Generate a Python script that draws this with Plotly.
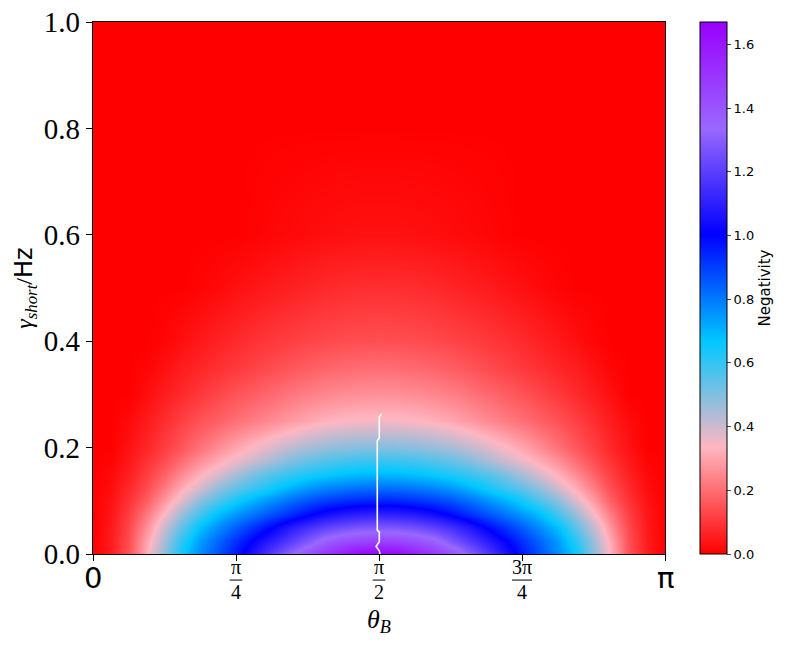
## Negativity map over theta_B and gamma_short
import numpy as np
import plotly.graph_objects as go

## Data
# theta from 0 to pi/2 in units of pi (the map is mirror-symmetric about pi/2)
theta_half = [0, 0.03125, 0.0625, 0.09375, 0.125, 0.15625, 0.1875, 0.21875, 0.25,
              0.28125, 0.3125, 0.34375, 0.375, 0.40625, 0.4375, 0.46875, 0.5]
gamma = [0, 0.025, 0.05, 0.075, 0.1, 0.125, 0.15, 0.175, 0.2, 0.25, 0.3, 0.35, 0.4, 0.5, 0.6, 0.8, 1.0]

# negativity on theta_half, one row per gamma value
neg_g000 = [0, 0.054, 0.15, 0.321, 0.485, 0.653, 0.77, 0.866, 0.963, 1.074, 1.196, 1.317, 1.42, 1.50, 1.58, 1.65, 1.67]
neg_g025 = [0, 0.05, 0.143, 0.304, 0.459, 0.614, 0.742, 0.833, 0.924, 1.015, 1.10, 1.19, 1.28, 1.37, 1.42, 1.45, 1.46]
neg_g050 = [0, 0.046, 0.129, 0.265, 0.409, 0.543, 0.677, 0.765, 0.843, 0.921, 0.998, 1.08, 1.15, 1.205, 1.245, 1.27, 1.276]
neg_g075 = [0, 0.039, 0.114, 0.222, 0.344, 0.465, 0.576, 0.682, 0.749, 0.808, 0.867, 0.926, 0.985, 1.04, 1.075, 1.097, 1.104]
neg_g100 = [0, 0.032, 0.093, 0.173, 0.283, 0.382, 0.488, 0.568, 0.646, 0.715, 0.77, 0.825, 0.87, 0.905, 0.93, 0.945, 0.95]
neg_g125 = [0, 0.024, 0.074, 0.139, 0.226, 0.315, 0.389, 0.474, 0.539, 0.594, 0.65, 0.705, 0.75, 0.78, 0.80, 0.815, 0.819]
neg_g150 = [0, 0.016, 0.057, 0.114, 0.179, 0.253, 0.322, 0.381, 0.444, 0.507, 0.555, 0.595, 0.628, 0.655, 0.675, 0.688, 0.692]
neg_g175 = [0, 0.008, 0.043, 0.091, 0.142, 0.201, 0.261, 0.315, 0.36, 0.405, 0.453, 0.502, 0.535, 0.56, 0.58, 0.592, 0.596]
neg_g200 = [0, 0, 0.033, 0.071, 0.115, 0.16, 0.209, 0.257, 0.305, 0.345, 0.384, 0.423, 0.452, 0.473, 0.488, 0.497, 0.5]
neg_g250 = [0, 0, 0.019, 0.049, 0.083, 0.117, 0.151, 0.177, 0.204, 0.23, 0.256, 0.282, 0.306, 0.325, 0.337, 0.344, 0.347]
neg_g300 = [0, 0, 0, 0.026, 0.051, 0.076, 0.102, 0.127, 0.152, 0.172, 0.193, 0.214, 0.232, 0.246, 0.256, 0.262, 0.264]
neg_g350 = [0, 0, 0, 0.009, 0.031, 0.052, 0.069, 0.087, 0.104, 0.122, 0.139, 0.156, 0.172, 0.184, 0.193, 0.199, 0.201]
neg_g400 = [0, 0, 0, 0, 0.01, 0.027, 0.044, 0.061, 0.076, 0.09, 0.103, 0.115, 0.125, 0.133, 0.139, 0.143, 0.144]
neg_g500 = [0, 0, 0, 0, 0, 0, 0.007, 0.017, 0.028, 0.038, 0.049, 0.057, 0.066, 0.074, 0.08, 0.084, 0.085]
neg_g600 = [0, 0, 0, 0, 0, 0, 0, 0, 0, 0.005, 0.011, 0.016, 0.021, 0.025, 0.028, 0.03, 0.03]
neg_g800 = [0] * 17
neg_g1000 = [0] * 17

# white contour near theta = pi/2
line_theta_over_pi = [0.5047, 0.5005, 0.5005, 0.497, 0.497, 0.5005, 0.5005, 0.4948, 0.5005, 0.5017]
line_gamma = [0.263, 0.258, 0.218, 0.213, 0.045, 0.041, 0.023, 0.014, 0.006, 0.0]

# x tick labels
tick_pos_over_pi = [0, 0.25, 0.5, 0.75, 1.0]
tick_num = ["0", "π", "π", "3π", "π"]
tick_den = ["", "4", "2", "4", ""]

cbar_ticks = [0.0, 0.2, 0.4, 0.6, 0.8, 1.0, 1.2, 1.4, 1.6]

## Build
rows = [neg_g000, neg_g025, neg_g050, neg_g075, neg_g100, neg_g125, neg_g150, neg_g175, neg_g200,
        neg_g250, neg_g300, neg_g350, neg_g400, neg_g500, neg_g600, neg_g800, neg_g1000]
# mirror the half map onto pi/2 .. pi
z = [r + r[-2::-1] for r in rows]
theta = np.array(theta_half + [1 - t for t in theta_half[-2::-1]]) * np.pi

cmap = [[0.0, "rgb(255,0,0)"], [0.2, "rgb(255,182,193)"], [0.4, "rgb(0,200,255)"],
        [0.6, "rgb(0,0,255)"], [0.8, "rgb(153,104,255)"], [1.0, "rgb(153,0,255)"]]

SERIF = "Liberation Serif"
SANS = "DejaVu Sans"

fig = go.Figure()
fig.add_trace(go.Heatmap(
    x=theta, y=gamma, z=z, zmin=0, zmax=1.67, zsmooth="best", colorscale=cmap,
    colorbar=dict(x=1.061, xanchor="left", y=0.5, yanchor="middle", len=1, lenmode="fraction",
                  thickness=27, xpad=0, ypad=0, outlinewidth=1, outlinecolor="black",
                  tickvals=cbar_ticks, tickformat=".1f", ticks="outside", ticklen=4,
                  tickfont=dict(family=SANS, size=13, color="black"),
                  title=dict(text="Negativity", side="right", font=dict(family=SANS, size=15, color="black")))))
fig.add_trace(go.Scatter(x=np.array(line_theta_over_pi) * np.pi, y=line_gamma, mode="lines",
                         line=dict(color="white", width=1.6), showlegend=False, hoverinfo="skip"))

# tick labels as text: plain for 0 and pi, stacked fractions otherwise
for p, num, den in zip(tick_pos_over_pi, tick_num, tick_den):
    xv = p * np.pi
    if den == "":
        fig.add_annotation(x=xv, y=-0.045, xref="x", yref="paper", text=num, showarrow=False,
                           font=dict(family=SANS, size=29, color="black"), yanchor="middle")
    else:
        fig.add_annotation(x=xv, y=-0.025, xref="x", yref="paper", text=num, showarrow=False,
                           font=dict(family=SERIF, size=20, color="black"), yanchor="middle")
        fig.add_annotation(x=xv, y=-0.072, xref="x", yref="paper", text=den, showarrow=False,
                           font=dict(family=SERIF, size=20, color="black"), yanchor="middle")
        half = 0.035 if len(num) == 1 else 0.055
        fig.add_shape(type="line", xref="x", yref="paper", x0=xv - half, x1=xv + half,
                      y0=-0.049, y1=-0.049, line=dict(color="black", width=1))

fig.add_annotation(x=np.pi / 2, y=-0.125, xref="x", yref="paper", showarrow=False,
                   text="<i>θ</i><sub><i>B</i></sub>", yanchor="middle",
                   font=dict(family=SERIF, size=26, color="black"))

fig.update_layout(width=794, height=645, margin=dict(l=93, r=129, t=22, b=91, autoexpand=False),
                  plot_bgcolor="white", paper_bgcolor="white", showlegend=False)
fig.update_xaxes(range=[0, np.pi], tickvals=[p * np.pi for p in tick_pos_over_pi],
                 showticklabels=False, ticks="outside", ticklen=6, tickwidth=1.2, tickcolor="black",
                 showline=True, linecolor="black", linewidth=1.3, mirror=True,
                 showgrid=False, zeroline=False)
fig.update_yaxes(range=[0, 1], tickvals=[0, 0.2, 0.4, 0.6, 0.8, 1.0], tickformat=".1f",
                 tickfont=dict(family=SERIF, size=29, color="black"),
                 ticks="outside", ticklen=6, tickwidth=1.2, tickcolor="black",
                 showline=True, linecolor="black", linewidth=1.3, mirror=True,
                 showgrid=False, zeroline=False, automargin=False,
                 title=dict(text="<i>γ</i><sub><i>short</i></sub>/<span style='font-family:DejaVu Sans'>Hz</span>",
                            font=dict(family=SERIF, size=24, color="black"), standoff=4))

# drop the page's default 8px body margin so the figure sits at the window corner
fig.write_html("out.html", config={"displayModeBar": False},
               post_script="document.body.style.margin='0';")
